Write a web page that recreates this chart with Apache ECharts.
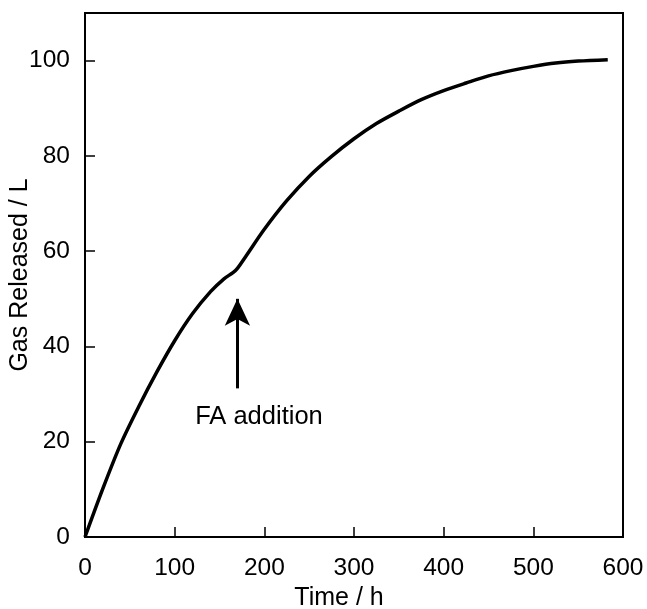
<!DOCTYPE html>
<html>
<head>
<meta charset="utf-8">
<script src="https://cdn.jsdelivr.net/npm/echarts@6/dist/echarts.min.js"></script>
<style>
html,body{margin:0;padding:0;background:#fff;}
#chart{width:647px;height:609px;}
</style>
</head>
<body>
<div id="chart"></div>
<script>
// Data
const times = [0, 20, 40, 60, 80, 100, 120, 140, 155, 165, 170, 180, 200, 225, 250, 275, 300, 325, 350, 375, 400, 425, 450, 475, 500, 525, 550, 583];
const gasReleased = [0, 10.2, 19.6, 27.4, 34.6, 41.2, 46.9, 51.5, 54.2, 55.5, 56.4, 59.1, 64.6, 70.6, 75.7, 79.9, 83.6, 86.8, 89.4, 91.8, 93.7, 95.3, 96.8, 97.9, 98.8, 99.5, 99.9, 100.2];
const xTickLabels = [0, 100, 200, 300, 400, 500, 600];
const yTickLabels = [0, 20, 40, 60, 80, 100];
const arrowTime = 170;
const arrowFrom = 31.2;
const arrowTo = 50;
const annotationText = 'FA addition';
const annotationAt = [194, 25.3];

const FONT = 'Liberation Sans, Arial, sans-serif';
const chart = echarts.init(document.getElementById('chart'));
const seriesData = times.map((t, i) => [t, gasReleased[i]]);

chart.setOption({
  animation: false,
  backgroundColor: '#fff',
  grid: {
    left: 85, right: 24, top: 13, bottom: 72,
    outerBoundsMode: 'none', containLabel: false,
    show: true, borderColor: '#000', borderWidth: 2, backgroundColor: 'transparent'
  },
  xAxis: {
    type: 'value', min: 0, max: 600, interval: 100,
    name: 'Time / h', nameLocation: 'middle', nameGap: 49, nameMoveOverlap: false,
    nameTextStyle: { color: '#000', fontSize: 25, fontFamily: FONT, padding: [0, 30, 0, 0] },
    axisLine: { show: true, onZero: false, lineStyle: { color: '#000', width: 2 } },
    axisTick: { show: true, inside: true, length: 10, lineStyle: { color: '#000', width: 1.5 } },
    axisLabel: {
      color: '#000', fontSize: 24.5, fontFamily: FONT, margin: 19,
      formatter: v => xTickLabels.includes(v) ? String(v) : ''
    },
    splitLine: { show: false }
  },
  yAxis: {
    type: 'value', min: 0, max: 110, interval: 20,
    name: 'Gas Released / L', nameLocation: 'middle', nameGap: 52, nameMoveOverlap: false,
    nameTextStyle: { color: '#000', fontSize: 25, fontFamily: FONT },
    axisLine: { show: true, onZero: false, lineStyle: { color: '#000', width: 2 } },
    axisTick: { show: true, inside: true, length: 10, lineStyle: { color: '#000', width: 1.5 } },
    axisLabel: {
      color: '#000', fontSize: 24.5, fontFamily: FONT, margin: 15, showMaxLabel: false,
      formatter: v => yTickLabels.includes(v) ? String(v) : ''
    },
    splitLine: { show: false }
  },
  series: [{
    type: 'line',
    data: seriesData,
    showSymbol: false,
    smooth: 0.3,
    lineStyle: { color: '#000', width: 3.5 },
    markLine: {
      silent: true,
      animation: false,
      symbol: ['none', 'arrow'],
      symbolSize: [19, 27],
      label: { show: false },
      lineStyle: { color: '#000', width: 3, type: 'solid' },
      data: [[{ coord: [arrowTime, arrowFrom] }, { coord: [arrowTime, arrowTo] }]]
    },
    markPoint: {
      silent: true,
      symbol: 'circle',
      symbolSize: 0,
      label: {
        show: true, position: 'inside', formatter: annotationText,
        color: '#000', fontSize: 25.5, fontFamily: FONT
      },
      data: [{ coord: annotationAt }]
    }
  }]
});
</script>
</body>
</html>
